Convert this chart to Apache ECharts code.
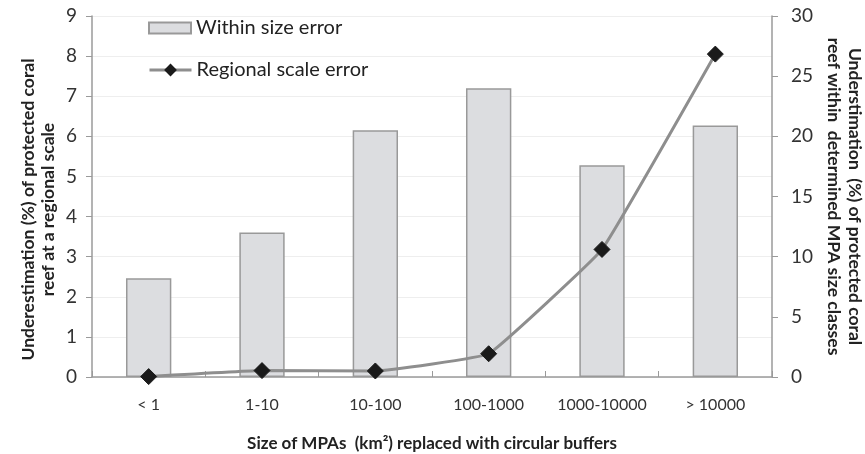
<!DOCTYPE html>
<html>
<head>
<meta charset="utf-8">
<script src="https://cdn.jsdelivr.net/npm/echarts@6/dist/echarts.min.js"></script>
<style>html,body{margin:0;padding:0;background:#fff}#c{width:865px;height:454px}</style>
</head>
<body>
<div id="c"></div>
<script>
const categories = ['< 1', '1-10', '10-100', '100-1000', '1000-10000', '> 10000'];
const withinSizeError = [8.2, 12.0, 20.5, 24.0, 17.6, 20.9];
const regionalScaleError = [0.01, 0.16, 0.15, 0.58, 3.18, 8.05];
const leftTicks = {min: 0, max: 9, interval: 1};
const rightTicks = {min: 0, max: 30, interval: 5};

const FONT = 'Lato, "Open Sans", sans-serif';
const chart = echarts.init(document.getElementById('c'));
chart.setOption({
  animation: false,
  textStyle: {fontFamily: FONT},
  grid: {left: 92, right: 93, top: 16, bottom: 77, containLabel: false, outerBoundsMode: 'none'},
  legend: [
    {
      left: 143, top: 13,
      itemWidth: 42, itemHeight: 11,
      textStyle: {fontFamily: FONT, fontSize: 20, color: '#222'},
      data: [{name: 'Within size error', icon: 'rect'}]
    },
    {
      left: 143, top: 55,
      itemWidth: 42, itemHeight: 16,
      lineStyle: {width: 3},
      textStyle: {fontFamily: FONT, fontSize: 20, color: '#222'},
      data: [{name: 'Regional scale error'}]
    }
  ],
  xAxis: {
    type: 'category', data: categories,
    axisLine: {lineStyle: {color: '#9a9a9a', width: 1.5}},
    axisTick: {show: true, inside: true, length: 6, lineStyle: {color: '#9a9a9a'}},
    axisLabel: {interval: 0, fontFamily: FONT, fontSize: 16, color: '#333', margin: 20},
    name: 'Size of MPAs  (km²) replaced with circular buffers',
    nameLocation: 'middle', nameGap: 58,
    nameTextStyle: {fontFamily: FONT, fontSize: 17, fontWeight: 'bold', color: '#222'}
  },
  yAxis: [
    {
      type: 'value', min: leftTicks.min, max: leftTicks.max, interval: leftTicks.interval,
      axisLine: {show: true, lineStyle: {color: '#9a9a9a', width: 1.5}},
      axisTick: {show: true, length: 6, lineStyle: {color: '#9a9a9a'}},
      axisLabel: {fontFamily: FONT, fontSize: 19, color: '#333', margin: 15},
      splitLine: {show: true, lineStyle: {color: '#eeeeee', width: 1}},
      name: 'Underestimation (%) of protected coral\nreef at a regional scale',
      nameLocation: 'middle', nameGap: 34, nameRotate: 90, nameMoveOverlap: false,
      nameTextStyle: {fontFamily: FONT, fontSize: 17.5, fontWeight: 'bold', color: '#222', lineHeight: 20, padding: [0, 26, 0, 0]}
    },
    {
      type: 'value', min: rightTicks.min, max: rightTicks.max, interval: rightTicks.interval,
      position: 'right',
      axisLine: {show: true, lineStyle: {color: '#9a9a9a', width: 1.5}},
      axisTick: {show: true, length: 6, lineStyle: {color: '#9a9a9a'}},
      axisLabel: {fontFamily: FONT, fontSize: 19, color: '#333', margin: 19},
      splitLine: {show: false},
      name: 'Understimation  (%) of protected coral\nreef within  determined MPA size classes',
      nameLocation: 'middle', nameGap: 51, nameRotate: -90, nameMoveOverlap: false,
      nameTextStyle: {fontFamily: FONT, fontSize: 17.5, fontWeight: 'bold', color: '#222', lineHeight: 21}
    }
  ],
  series: [
    {
      name: 'Within size error', type: 'bar', yAxisIndex: 1,
      data: withinSizeError, barWidth: '40%',
      itemStyle: {color: '#dcdde0', borderColor: '#999999', borderWidth: 1.5},
      z: 2
    },
    {
      name: 'Regional scale error', type: 'line', yAxisIndex: 0,
      data: regionalScaleError, smooth: 0.08,
      symbol: 'diamond', symbolSize: 16, showAllSymbol: true,
      lineStyle: {color: '#8e8e8e', width: 3},
      itemStyle: {color: '#1a1a1a', borderColor: '#1a1a1a'},
      z: 5
    }
  ]
});
</script>
</body>
</html>
